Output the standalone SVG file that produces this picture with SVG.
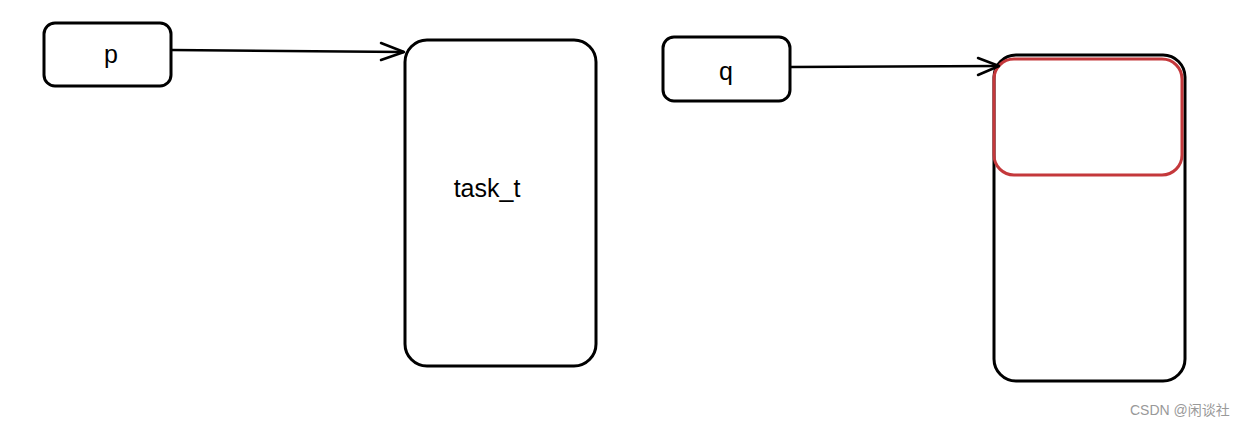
<svg xmlns="http://www.w3.org/2000/svg" width="1245" height="426" viewBox="0 0 1245 426">
<style>
.box{fill:#fff;stroke:#000;stroke-width:3}
.lbl{font-family:"Liberation Sans",Arial,sans-serif;font-size:25px;fill:#000;text-anchor:middle}
.conn{fill:none;stroke:#000;stroke-width:2.5}
.head{fill:none;stroke:#000;stroke-width:2.5;stroke-linecap:round;stroke-linejoin:round}
</style>
<rect width="1245" height="426" fill="#fff"/>
<g id="node-p">
<rect class="box" x="44" y="23" width="127" height="63" rx="11"/>
<text class="lbl" x="111" y="63">p</text>
</g>
<g id="node-task">
<rect class="box" x="405" y="40" width="191" height="326" rx="22"/>
<text class="lbl" x="487" y="197" font-size="27">task_t</text>
</g>
<g id="node-q">
<rect class="box" x="663" y="37" width="127" height="64" rx="11"/>
<text class="lbl" x="726" y="80">q</text>
</g>
<g id="node-obj">
<rect class="box" x="994" y="55" width="191" height="326" rx="22"/>
<rect x="994" y="59" width="188" height="116" rx="20" fill="none" stroke="#c4383b" stroke-width="3"/>
</g>
<g id="connectors">
<path class="conn" d="M171,50 L404,52"/>
<path class="head" d="M381,43 L404,52 L381,60"/>
<path class="conn" d="M790,67 L999,66"/>
<path class="head" d="M978,58 L999,66 L978,75"/>
</g>
<text x="1130" y="415" font-family="'Liberation Sans','Noto Sans CJK SC',sans-serif" font-size="14" fill="#999">CSDN @闲谈社</text>
</svg>
